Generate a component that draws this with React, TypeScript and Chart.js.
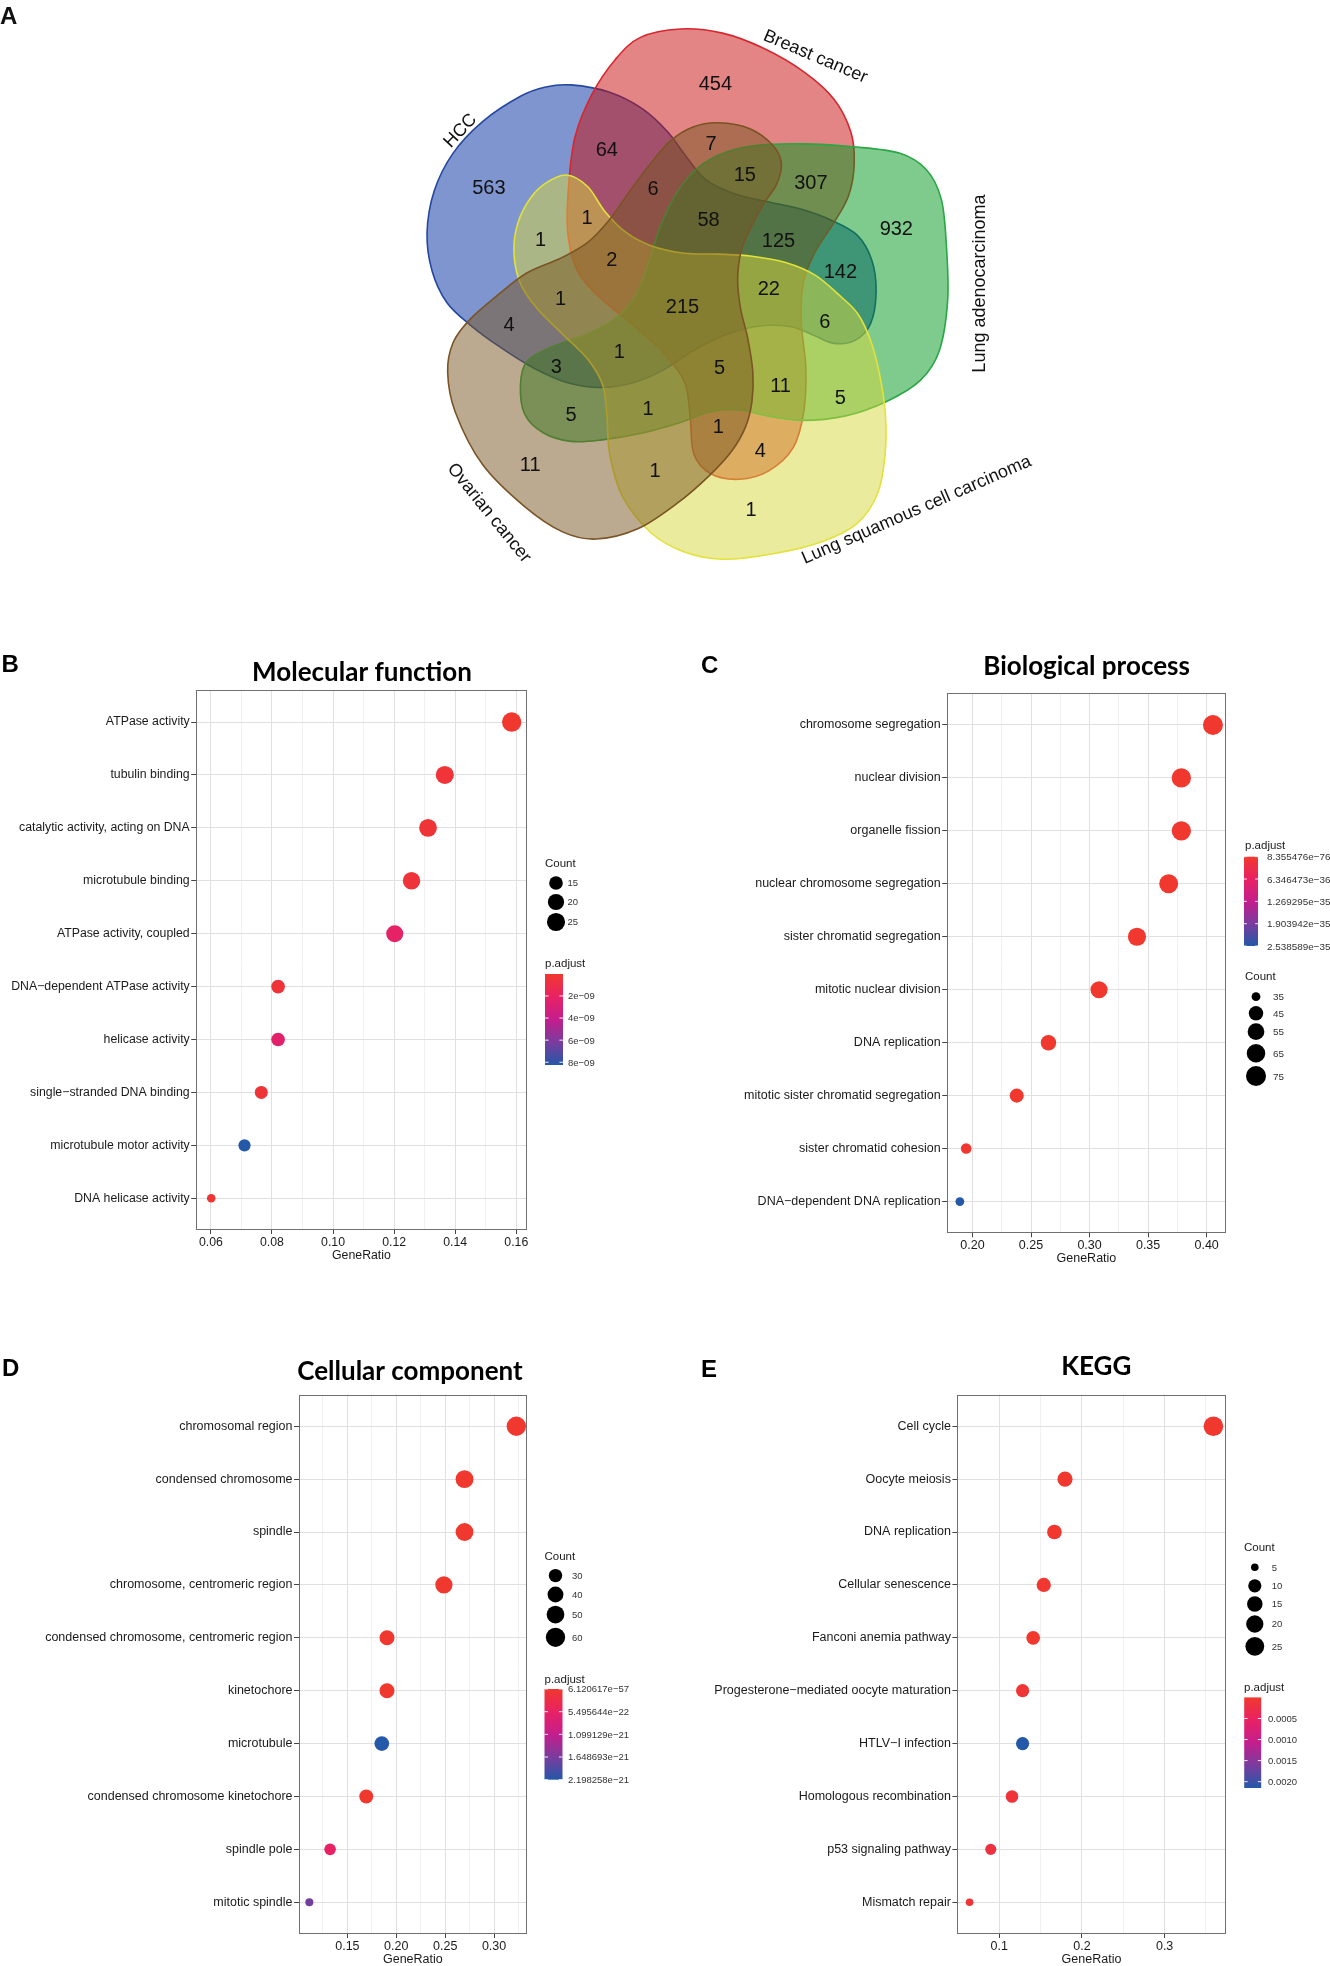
import React, { useEffect, useRef } from "react";
import { Chart, registerables } from "chart.js";
Chart.register(...registerables);

const SANS = '"Liberation Sans", Arial, Helvetica, sans-serif';
const TITLE_FONT = 'Lato, "Open Sans", sans-serif';

// ---------------- Venn (panel A) ----------------
const vennSets = ["HCC", "Breast cancer", "Lung adenocarcinoma", "Lung squamous cell carcinoma", "Ovarian cancer"];
const vennFill = ["rgba(0,43,159,0.5)", "rgba(199,11,11,0.5)", "rgba(0,151,29,0.5)", "rgba(215,215,61,0.5)", "rgba(119,85,31,0.5)"];
const vennStroke = ["#2448A0", "#D8262E", "#28A745", "#E2E23A", "#7A5424"];
// region counts and the diagram position of each region's label
const vennCounts = [563, 454, 64, 7, 6, 15, 307, 932, 1, 1, 58, 125, 2, 142, 22, 215, 1, 4, 6, 1, 3, 5, 11, 5, 5, 1, 1, 4, 11, 1, 1];
const vennAnchors: [number, number][] = [
  [235, 420], [773, 172], [515, 330], [763, 315], [625, 422], [843, 390], [1000, 408], [1203, 517],
  [468, 492], [358, 543], [757, 497], [923, 545], [527, 590], [1070, 620], [900, 660], [695, 702],
  [405, 683], [283, 745], [1033, 738], [545, 810], [395, 845], [783, 848], [928, 890], [1070, 918],
  [430, 960], [613, 945], [780, 988], [880, 1045], [333, 1078], [630, 1092], [858, 1185],
];
const vennSetLabelPos: [number, number, number][] = [
  [165, 285, -47], [1012, 108, 23], [1398, 650, -90], [1250, 1185, -23.5], [238, 1193, 51],
];
// outline geometry of the five set shapes (diagram units)
const vennOutlines: [number, number][][] = [
  [[430,178],[520,195],[600,235],[660,290],[705,350],[750,403],[820,437],[900,456],[980,474],[1050,500],[1110,535],[1145,595],[1155,670],[1142,745],[1105,785],[1055,792],[1005,772],[950,752],[870,752],[795,773],[720,810],[650,855],[580,885],[500,897],[420,885],[340,850],[260,800],[190,748],[135,695],[100,620],[88,530],[105,430],[150,340],[220,265],[310,205],[370,183]],
  [[425,410],[440,300],[480,200],[535,118],[595,65],[690,45],[790,55],[890,92],[985,148],[1055,212],[1095,290],[1103,365],[1090,440],[1055,505],[1010,575],[982,648],[977,740],[988,850],[983,955],[958,1040],[900,1095],[830,1115],[762,1102],[722,1055],[713,965],[700,885],[650,815],[570,742],[495,680],[443,615],[422,525]],
  [[720,385],[780,345],[860,323],[980,318],[1100,325],[1210,340],[1275,380],[1310,450],[1322,560],[1325,690],[1305,810],[1260,880],[1180,930],[1080,965],[980,975],[900,965],[830,950],[760,955],[690,980],[600,1005],[500,1022],[430,1025],[365,1005],[320,960],[310,890],[325,835],[385,800],[470,770],[540,730],[585,675],[615,600],[640,520],[675,445]],
  [[420,392],[470,420],[510,478],[560,528],[620,560],[700,578],[780,580],[860,585],[940,600],[1010,630],[1070,680],[1110,720],[1140,780],[1162,860],[1177,960],[1176,1060],[1158,1150],[1110,1220],[1030,1262],[910,1292],[790,1305],[700,1288],[620,1242],[552,1155],[522,1055],[515,960],[505,890],[470,830],[410,770],[350,710],[310,650],[295,585],[300,520],[325,460],[365,415]],
  [[780,268],[855,282],[910,322],[930,365],[918,415],[888,460],[858,515],[835,570],[826,640],[833,710],[850,780],[862,860],[860,930],[845,990],[812,1048],[760,1105],[685,1170],[590,1232],[490,1257],[410,1240],[320,1180],[220,1080],[155,955],[137,860],[150,790],[190,735],[255,678],[325,625],[405,590],[470,552],[520,500],[565,437],[615,370],[665,312],[720,278]],
];

// ---------------- p.adjust colour scale ----------------
const padjStops: [number, number[]][] = [
  [0, [241, 56, 46]],
  [0.25, [232, 34, 100]],
  [0.5, [196, 30, 140]],
  [0.75, [122, 60, 158]],
  [1, [36, 88, 168]],
];
function padjColor(t: number) {
  t = Math.max(0, Math.min(1, t));
  for (let i = 1; i < padjStops.length; i++) {
    const [t1, c1] = padjStops[i];
    const [t0, c0] = padjStops[i - 1];
    if (t <= t1) {
      const f = (t - t0) / (t1 - t0);
      const c = c0.map((v, k) => Math.round(v + (c1[k] - v) * f));
      return `rgb(${c[0]},${c[1]},${c[2]})`;
    }
  }
  const c = padjStops[padjStops.length - 1][1];
  return `rgb(${c[0]},${c[1]},${c[2]})`;
}

// ---------------- B: Molecular function ----------------
const mfTerms = ["ATPase activity", "tubulin binding", "catalytic activity, acting on DNA", "microtubule binding", "ATPase activity, coupled", "DNA\u2212dependent ATPase activity", "helicase activity", "single\u2212stranded DNA binding", "microtubule motor activity", "DNA helicase activity"];
const mfGeneRatio = [0.1585, 0.1366, 0.1311, 0.1257, 0.1202, 0.0820, 0.0820, 0.0765, 0.0710, 0.0601];
const mfCount = [29, 25, 24, 23, 22, 15, 15, 14, 13, 11];
const mfPadj = [1.2e-11, 3.5e-10, 4.0e-10, 5.0e-10, 2.2e-9, 4.5e-10, 2.4e-9, 4.0e-10, 8.25e-9, 3.0e-10];
const mfXTicks = [0.06, 0.08, 0.10, 0.12, 0.14, 0.16];
const mfXLabels = ["0.06", "0.08", "0.10", "0.12", "0.14", "0.16"];
const mfXMinor = [0.07, 0.09, 0.11, 0.13, 0.15];
const mfCountLegend = [15, 20, 25];
const mfPadjTicks = [2e-9, 4e-9, 6e-9, 8e-9];
const mfPadjLabels = ["2e\u221209", "4e\u221209", "6e\u221209", "8e\u221209"];

// ---------------- C: Biological process ----------------
const bpTerms = ["chromosome segregation", "nuclear division", "organelle fission", "nuclear chromosome segregation", "sister chromatid segregation", "mitotic nuclear division", "DNA replication", "mitotic sister chromatid segregation", "sister chromatid cohesion", "DNA\u2212dependent DNA replication"];
const bpGeneRatio = [0.4054, 0.3784, 0.3784, 0.3676, 0.3405, 0.3081, 0.2649, 0.2378, 0.1946, 0.1892];
const bpCount = [75, 70, 70, 68, 63, 57, 49, 44, 36, 35];
const bpPadj = [8.355476e-76, 3.1e-70, 5.2e-70, 1.4e-68, 2.2e-64, 4.7e-58, 1.9e-50, 6.3e-48, 1.8e-37, 2.538589e-35];
const bpXTicks = [0.20, 0.25, 0.30, 0.35, 0.40];
const bpXLabels = ["0.20", "0.25", "0.30", "0.35", "0.40"];
const bpXMinor = [0.225, 0.275, 0.325, 0.375];
const bpCountLegend = [35, 45, 55, 65, 75];
const bpPadjTicks = [8.355476e-76, 6.346473e-36, 1.269295e-35, 1.903942e-35, 2.538589e-35];
const bpPadjLabels = ["8.355476e\u221276", "6.346473e\u221236", "1.269295e\u221235", "1.903942e\u221235", "2.538589e\u221235"];

// ---------------- D: Cellular component ----------------
const ccTerms = ["chromosomal region", "condensed chromosome", "spindle", "chromosome, centromeric region", "condensed chromosome, centromeric region", "kinetochore", "microtubule", "condensed chromosome kinetochore", "spindle pole", "mitotic spindle"];
const ccGeneRatio = [0.3228, 0.2698, 0.2698, 0.2487, 0.1905, 0.1905, 0.1852, 0.1693, 0.1323, 0.1111];
const ccCount = [61, 51, 51, 47, 36, 36, 35, 32, 25, 21];
const ccPadj = [6.120617e-57, 2.4e-52, 8.8e-48, 3.3e-46, 7.5e-35, 1.2e-33, 2.198258e-21, 4.1e-31, 5.5e-22, 1.7e-21];
const ccXTicks = [0.15, 0.20, 0.25, 0.30];
const ccXLabels = ["0.15", "0.20", "0.25", "0.30"];
const ccXMinor = [0.125, 0.175, 0.225, 0.275, 0.325];
const ccCountLegend = [30, 40, 50, 60];
const ccPadjTicks = [6.120617e-57, 5.495644e-22, 1.099129e-21, 1.648693e-21, 2.198258e-21];
const ccPadjLabels = ["6.120617e\u221257", "5.495644e\u221222", "1.099129e\u221221", "1.648693e\u221221", "2.198258e\u221221"];

// ---------------- E: KEGG ----------------
const kgTerms = ["Cell cycle", "Oocyte meiosis", "DNA replication", "Cellular senescence", "Fanconi anemia pathway", "Progesterone\u2212mediated oocyte maturation", "HTLV\u2212I infection", "Homologous recombination", "p53 signaling pathway", "Mismatch repair"];
const kgGeneRatio = [0.3590, 0.1795, 0.1667, 0.1538, 0.1410, 0.1282, 0.1282, 0.1154, 0.0897, 0.0641];
const kgCount = [28, 14, 13, 12, 11, 10, 10, 9, 7, 5];
const kgPadj = [3.2e-15, 1.1e-6, 2.4e-7, 2.0e-5, 4.2e-6, 7.9e-5, 2.15e-3, 1.1e-4, 1.6e-4, 1.0e-4];
const kgXTicks = [0.1, 0.2, 0.3];
const kgXLabels = ["0.1", "0.2", "0.3"];
const kgXMinor = [0.05, 0.15, 0.25, 0.35];
const kgCountLegend = [5, 10, 15, 20, 25];
const kgPadjTicks = [0.0005, 0.0010, 0.0015, 0.0020];
const kgPadjLabels = ["0.0005", "0.0010", "0.0015", "0.0020"];

type Box = { l: number; t: number; r: number; b: number };
type Rect = { x: number; y: number; w: number; h: number };
type PanelCfg = {
  letter: string; title: string;
  terms: string[]; ratio: number[]; count: number[]; padj: number[];
  xTicks: number[]; xLabels: string[]; xMinor: number[];
  countLegend: number[]; padjTicks: number[]; padjLabels: string[];
  canvas: Rect; box: Box; fontSize: number; legendFont: number;
  titleX: number; titleBase: number; letterX: number; letterBase: number; axisTitleBase: number;
  cnt: { titleX: number; titleBase: number; dotX: number; dotY: number[]; labelX: number };
  bar: { titleX: number; titleBase: number; x: number; y: number; w: number; h: number; labelX: number };
  sizeA: number; sizeB: number;
};

const panels: PanelCfg[] = [
  {
    letter: "B", title: "Molecular function",
    terms: mfTerms, ratio: mfGeneRatio, count: mfCount, padj: mfPadj,
    xTicks: mfXTicks, xLabels: mfXLabels, xMinor: mfXMinor,
    countLegend: mfCountLegend, padjTicks: mfPadjTicks, padjLabels: mfPadjLabels,
    canvas: { x: 0, y: 640, w: 665, h: 630 }, box: { l: 196.2, t: 690.3, r: 526.7, b: 1230 }, fontSize: 12.3, legendFont: 9.5,
    titleX: 362, titleBase: 681, letterX: 1.5, letterBase: 671.7, axisTitleBase: 1259,
    cnt: { titleX: 545, titleBase: 867, dotX: 556, dotY: [883, 902, 922], labelX: 567.5 },
    bar: { titleX: 545, titleBase: 967, x: 545, y: 974, w: 18, h: 91, labelX: 568 },
    sizeA: 4.3, sizeB: 5.4,
  },
  {
    letter: "C", title: "Biological process",
    terms: bpTerms, ratio: bpGeneRatio, count: bpCount, padj: bpPadj,
    xTicks: bpXTicks, xLabels: bpXLabels, xMinor: bpXMinor,
    countLegend: bpCountLegend, padjTicks: bpPadjTicks, padjLabels: bpPadjLabels,
    canvas: { x: 665, y: 640, w: 665, h: 630 }, box: { l: 947.2, t: 693.2, r: 1225.6, b: 1233.3 }, fontSize: 12.5, legendFont: 9.9,
    titleX: 1086.6, titleBase: 674.8, letterX: 701, letterBase: 672.5, axisTitleBase: 1261.5,
    cnt: { titleX: 1245, titleBase: 980, dotX: 1256, dotY: [996.7, 1013.3, 1031.7, 1053.3, 1076], labelX: 1273 },
    bar: { titleX: 1245, titleBase: 849, x: 1244, y: 856.7, w: 14, h: 89.3, labelX: 1267 },
    sizeA: 4.4, sizeB: 5.6,
  },
  {
    letter: "D", title: "Cellular component",
    terms: ccTerms, ratio: ccGeneRatio, count: ccCount, padj: ccPadj,
    xTicks: ccXTicks, xLabels: ccXLabels, xMinor: ccXMinor,
    countLegend: ccCountLegend, padjTicks: ccPadjTicks, padjLabels: ccPadjLabels,
    canvas: { x: 0, y: 1330, w: 665, h: 636 }, box: { l: 299, t: 1394.5, r: 526.7, b: 1934 }, fontSize: 12.5, legendFont: 9.5,
    titleX: 410, titleBase: 1379.7, letterX: 2, letterBase: 1375.6, axisTitleBase: 1963,
    cnt: { titleX: 544.5, titleBase: 1559.5, dotX: 555.5, dotY: [1575.6, 1594.5, 1614.6, 1637.3], labelX: 572 },
    bar: { titleX: 544.5, titleBase: 1682.5, x: 544.5, y: 1689, w: 18, h: 90.7, labelX: 568 },
    sizeA: 4.0, sizeB: 5.7,
  },
  {
    letter: "E", title: "KEGG",
    terms: kgTerms, ratio: kgGeneRatio, count: kgCount, padj: kgPadj,
    xTicks: kgXTicks, xLabels: kgXLabels, xMinor: kgXMinor,
    countLegend: kgCountLegend, padjTicks: kgPadjTicks, padjLabels: kgPadjLabels,
    canvas: { x: 665, y: 1330, w: 665, h: 636 }, box: { l: 957.4, t: 1394.5, r: 1225.6, b: 1934 }, fontSize: 12.5, legendFont: 9.5,
    titleX: 1096.3, titleBase: 1374.7, letterX: 701, letterBase: 1376.8, axisTitleBase: 1963,
    cnt: { titleX: 1244, titleBase: 1551, dotX: 1254.8, dotY: [1567.3, 1585.8, 1604, 1624, 1646.3], labelX: 1271.8 },
    bar: { titleX: 1244, titleBase: 1690.7, x: 1244.2, y: 1697.4, w: 17, h: 90.6, labelX: 1268 },
    sizeA: 3.8, sizeB: 6.0,
  },
];

// Venn canvas/diagram mapping (diagram units -> page pixels)
const VENN_W = 1330, VENN_H = 630;
const VENN_SCALE = 2.376, VENN_OX = 390, VENN_OY = 10;

function splinePath(ctx: CanvasRenderingContext2D, p: number[][]) {
  const n = p.length;
  ctx.moveTo(p[0][0], p[0][1]);
  for (let i = 0; i < n; i++) {
    const p0 = p[(i - 1 + n) % n], p1 = p[i], p2 = p[(i + 1) % n], p3 = p[(i + 2) % n];
    ctx.bezierCurveTo(
      p1[0] + (p2[0] - p0[0]) / 6, p1[1] + (p2[1] - p0[1]) / 6,
      p2[0] - (p3[0] - p1[0]) / 6, p2[1] - (p3[1] - p1[1]) / 6,
      p2[0], p2[1]
    );
  }
  ctx.closePath();
}

const vennPlugin = {
  id: "vennShapes",
  beforeDatasetsDraw(chart: any) {
    const ctx: CanvasRenderingContext2D = chart.ctx;
    const xs = chart.scales.x, ys = chart.scales.y;
    vennOutlines.forEach((pts, i) => {
      const px = pts.map(([a, b]) => [xs.getPixelForValue(a), ys.getPixelForValue(b)]);
      ctx.save();
      ctx.beginPath();
      splinePath(ctx, px);
      ctx.fillStyle = vennFill[i];
      ctx.fill();
      ctx.lineWidth = 1.6;
      ctx.strokeStyle = vennStroke[i];
      ctx.stroke();
      ctx.restore();
    });
  },
  afterDatasetsDraw(chart: any) {
    const ctx: CanvasRenderingContext2D = chart.ctx;
    const xs = chart.scales.x, ys = chart.scales.y;
    const meta = chart.getDatasetMeta(0);
    ctx.save();
    ctx.fillStyle = "#111";
    ctx.textAlign = "center";
    ctx.textBaseline = "alphabetic";
    ctx.font = `20px ${SANS}`;
    meta.data.forEach((el: any, i: number) => {
      ctx.fillText(String(vennCounts[i]), el.x, el.y + 7.2);
    });
    ctx.font = `18px ${SANS}`;
    vennSetLabelPos.forEach(([a, b, rot], i) => {
      ctx.save();
      ctx.translate(xs.getPixelForValue(a), ys.getPixelForValue(b));
      ctx.rotate((rot * Math.PI) / 180);
      ctx.fillText(vennSets[i], 0, 6.4);
      ctx.restore();
    });
    ctx.textAlign = "left";
    ctx.font = `bold 24px ${SANS}`;
    ctx.fillText("A", 0, 24);
    ctx.restore();
  },
};

function VennChart() {
  const ref = useRef<HTMLCanvasElement>(null);
  useEffect(() => {
    const canvas = ref.current!;
    const chart = new Chart(canvas, {
      type: "scatter",
      data: { datasets: [{ data: vennAnchors.map(([x, y]) => ({ x, y })), pointRadius: 0, pointHoverRadius: 0 }] },
      options: {
        responsive: false,
        animation: false,
        events: [],
        layout: { padding: 0 },
        plugins: { legend: { display: false }, tooltip: { enabled: false } },
        scales: {
          x: { type: "linear", display: false, min: (0 - VENN_OX) * VENN_SCALE, max: (VENN_W - VENN_OX) * VENN_SCALE },
          y: { type: "linear", display: false, reverse: true, min: (0 - VENN_OY) * VENN_SCALE, max: (VENN_H - VENN_OY) * VENN_SCALE },
        },
      } as any,
      plugins: [vennPlugin],
    });
    return () => chart.destroy();
  }, []);
  return (
    <canvas ref={ref} width={VENN_W} height={VENN_H}
      style={{ position: "absolute", left: 0, top: 0, width: VENN_W, height: VENN_H }} />
  );
}

function DotPlot({ cfg }: { cfg: PanelCfg }) {
  const ref = useRef<HTMLCanvasElement>(null);
  useEffect(() => {
    const n = cfg.terms.length;
    const rmin = Math.min(...cfg.ratio), rmax = Math.max(...cfg.ratio);
    const pad = (rmax - rmin) * 0.05;
    const cmin = Math.min(...cfg.count), cmax = Math.max(...cfg.count);
    const pmin = Math.min(...cfg.padj), pmax = Math.max(...cfg.padj);
    const rad = (c: number) => cfg.sizeA + cfg.sizeB * Math.sqrt(Math.max(0, (c - cmin) / (cmax - cmin)));
    const tOf = (p: number) => (p - pmin) / (pmax - pmin);
    const allTicks = [...cfg.xTicks, ...cfg.xMinor].sort((a, b) => a - b);
    const majorIdx = (v: number) => cfg.xTicks.findIndex((m) => Math.abs(m - v) < 1e-9);
    const ox = cfg.canvas.x, oy = cfg.canvas.y;
    const fs = cfg.fontSize;
    const lf = cfg.legendFont;

    const decor = {
      id: "decor",
      afterDraw(chart: any) {
        const ctx: CanvasRenderingContext2D = chart.ctx;
        const ca = chart.chartArea;
        ctx.save();
        // panel border
        ctx.strokeStyle = "#707070";
        ctx.lineWidth = 1;
        const l = Math.round(ca.left) + 0.5, t = Math.round(ca.top) + 0.5;
        const r = Math.round(ca.right) - 0.5, b = Math.round(ca.bottom) - 0.5;
        ctx.strokeRect(l, t, r - l, b - t);
        // panel title + letter
        ctx.fillStyle = "#000";
        ctx.textBaseline = "alphabetic";
        ctx.textAlign = "center";
        ctx.font = `bold 26px ${TITLE_FONT}`;
        ctx.fillText(cfg.title, cfg.titleX - ox, cfg.titleBase - oy);
        ctx.textAlign = "left";
        ctx.font = `bold 24px ${SANS}`;
        ctx.fillText(cfg.letter, cfg.letterX - ox, cfg.letterBase - oy);
        // x axis title
        ctx.textAlign = "center";
        ctx.fillStyle = "#1a1a1a";
        ctx.font = `${fs}px ${SANS}`;
        ctx.fillText("GeneRatio", (ca.left + ca.right) / 2, cfg.axisTitleBase - oy);
        // Count legend
        ctx.textAlign = "left";
        ctx.font = `11.5px ${SANS}`;
        ctx.fillText("Count", cfg.cnt.titleX - ox, cfg.cnt.titleBase - oy);
        cfg.countLegend.forEach((c, i) => {
          ctx.beginPath();
          ctx.fillStyle = "#000";
          ctx.arc(cfg.cnt.dotX - ox, cfg.cnt.dotY[i] - oy, rad(c), 0, Math.PI * 2);
          ctx.fill();
          ctx.fillStyle = "#333";
          ctx.font = `${lf}px ${SANS}`;
          ctx.fillText(String(c), cfg.cnt.labelX - ox, cfg.cnt.dotY[i] - oy + lf * 0.36);
        });
        // p.adjust colourbar
        const bx = cfg.bar.x - ox, by = cfg.bar.y - oy, bw = cfg.bar.w, bh = cfg.bar.h;
        ctx.fillStyle = "#1a1a1a";
        ctx.font = `11.5px ${SANS}`;
        ctx.fillText("p.adjust", cfg.bar.titleX - ox, cfg.bar.titleBase - oy);
        const g = ctx.createLinearGradient(0, by, 0, by + bh);
        for (let k = 0; k <= 20; k++) g.addColorStop(k / 20, padjColor(k / 20));
        ctx.fillStyle = g;
        ctx.fillRect(bx, by, bw, bh);
        ctx.strokeStyle = "rgba(255,255,255,0.9)";
        ctx.lineWidth = 1;
        ctx.font = `${lf}px ${SANS}`;
        cfg.padjTicks.forEach((v, i) => {
          const yy = by + bh * tOf(v);
          ctx.beginPath();
          ctx.moveTo(bx, yy); ctx.lineTo(bx + bw * 0.2, yy);
          ctx.moveTo(bx + bw * 0.8, yy); ctx.lineTo(bx + bw, yy);
          ctx.stroke();
          ctx.fillStyle = "#333";
          ctx.fillText(cfg.padjLabels[i], cfg.bar.labelX - ox, yy + lf * 0.36);
        });
        ctx.restore();
      },
    };

    const chart = new Chart(ref.current!, {
      type: "scatter",
      data: {
        datasets: [{
          data: cfg.terms.map((_, i) => ({ x: cfg.ratio[i], y: i })),
          pointRadius: cfg.count.map(rad),
          pointHoverRadius: cfg.count.map(rad),
          pointBackgroundColor: cfg.padj.map((p) => padjColor(tOf(p))),
          pointBorderWidth: 0,
          pointBorderColor: "rgba(0,0,0,0)",
          clip: false,
        }],
      },
      options: {
        responsive: false,
        animation: false,
        events: [],
        layout: { padding: { left: 0, top: cfg.box.t - oy, right: ox + cfg.canvas.w - cfg.box.r, bottom: 0 } },
        plugins: { legend: { display: false }, tooltip: { enabled: false } },
        scales: {
          x: {
            type: "linear", bounds: "data", min: rmin - pad, max: rmax + pad,
            afterBuildTicks: (s: any) => { s.ticks = allTicks.map((v) => ({ value: v })); },
            afterFit: (s: any) => { s.height = oy + cfg.canvas.h - cfg.box.b; },
            ticks: {
              autoSkip: false, maxRotation: 0, minRotation: 0, padding: 1,
              color: "#1a1a1a", font: { family: SANS, size: fs },
              callback: (v: any) => { const k = majorIdx(Number(v)); return k >= 0 ? cfg.xLabels[k] : ""; },
            },
            grid: {
              color: (c: any) => (c.tick && majorIdx(c.tick.value) >= 0 ? "#E0E0E0" : "#EBEBEB"),
              lineWidth: (c: any) => (c.tick && majorIdx(c.tick.value) >= 0 ? 1 : 0.7),
              tickLength: 4,
              tickWidth: 1,
              tickColor: (c: any) => (c.tick && majorIdx(c.tick.value) >= 0 ? "#444" : "rgba(0,0,0,0)"),
            },
            border: { display: false },
          },
          y: {
            type: "linear", bounds: "data", reverse: true, min: -0.6, max: n - 1 + 0.6,
            afterBuildTicks: (s: any) => { s.ticks = cfg.terms.map((_, i) => ({ value: i })); },
            afterFit: (s: any) => { s.width = cfg.box.l - ox; },
            ticks: {
              autoSkip: false, padding: 1.5, color: "#1a1a1a", font: { family: SANS, size: fs },
              callback: (v: any) => cfg.terms[Math.round(Number(v))],
            },
            grid: { color: "#E0E0E0", lineWidth: 1, tickLength: 5, tickWidth: 1, tickColor: "#444" },
            border: { display: false },
          },
        },
      } as any,
      plugins: [decor],
    });
    return () => chart.destroy();
  }, [cfg]);
  return (
    <canvas ref={ref} width={cfg.canvas.w} height={cfg.canvas.h}
      style={{ position: "absolute", left: cfg.canvas.x, top: cfg.canvas.y, width: cfg.canvas.w, height: cfg.canvas.h }} />
  );
}

export default function App() {
  return (
    <div style={{ position: "absolute", left: 0, top: 0, width: 1330, height: 1966, overflow: "hidden", background: "#fff" }}>
      <VennChart />
      {panels.map((p) => (
        <DotPlot key={p.letter} cfg={p} />
      ))}
    </div>
  );
}
